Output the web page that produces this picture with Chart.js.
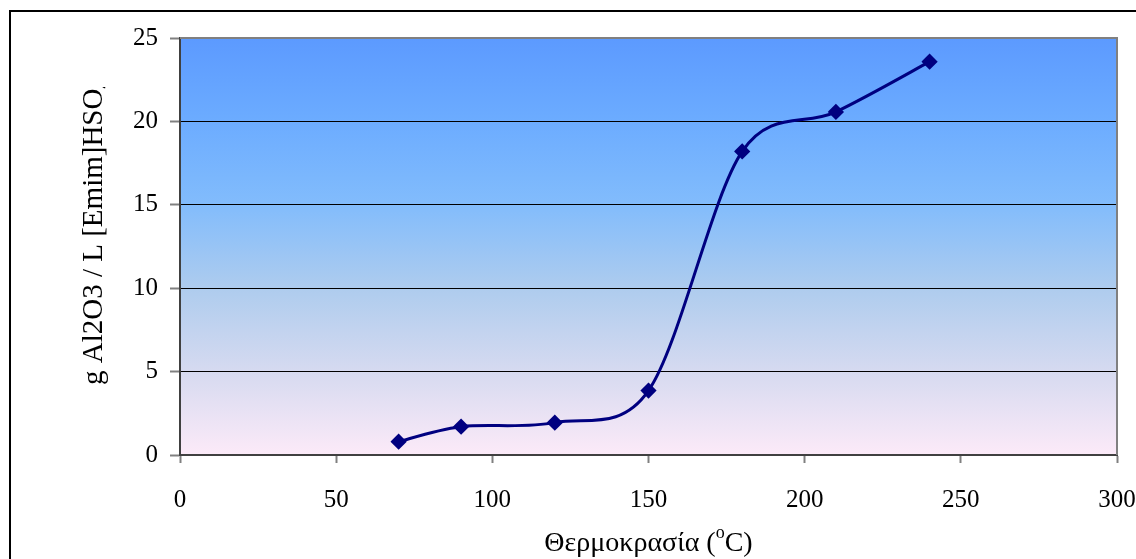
<!DOCTYPE html>
<html>
<head>
<meta charset="utf-8">
<script src="https://cdn.jsdelivr.net/npm/chart.js@4"></script>
<style>
  html, body { margin: 0; padding: 0; background: white; }
  #wrap { width: 1136px; height: 559px; }
</style>
</head>
<body>
<div id="wrap"><canvas id="myChart" width="1136" height="559"></canvas></div>
<script>
const temps = [70, 90, 120, 150, 180, 210, 240];
const alumina = [0.8, 1.7, 1.94, 3.86, 18.2, 20.57, 23.58];
const xTicks = [0, 50, 100, 150, 200, 250, 300];
const yTicks = [0, 5, 10, 15, 20, 25];

const yTitle = 'g Al2O3 / L [Emim]HSO';
const yTitleSub = '4';
const xTitle = 'Θερμοκρασία (';
const xTitleSup = 'o';
const xTitleEnd = 'C)';

const serif = "'Liberation Serif', 'Times New Roman', serif";

// Excel style smoothing: control points at 1/6 of the neighbour difference,
// arm length kept under half of the segment
const excelSmooth = {
  id: 'excelSmooth',
  beforeDatasetDraw(chart, args) {
    const line = args.meta.dataset
    line.updateControlPoints(chart.chartArea, 'x')
    const pts = args.meta.data
    const n = pts.length
    const dist = (a, b) => Math.hypot(b.x - a.x, b.y - a.y)
    for (let i = 0; i < n; i++) {
      const p = pts[i]
      const prev = pts[i - 1] || p
      const next = pts[i + 1] || p
      const dx = (next.x - prev.x) / 6
      const dy = (next.y - prev.y) / 6
      const arm = Math.hypot(dx, dy) || 1
      const k1 = Math.min(1, dist(prev, p) / 2 / arm)
      const k2 = Math.min(1, dist(p, next) / 2 / arm)
      p.cp1x = p.x - dx * k1
      p.cp1y = p.y - dy * k1
      p.cp2x = p.x + dx * k2
      p.cp2y = p.y + dy * k2
    }
    line._path = undefined
  }
}

const frame = {
  id: 'frame',
  beforeDraw(chart) {
    const ctx = chart.ctx
    const a = chart.chartArea
    ctx.save()
    ctx.fillStyle = 'white'
    ctx.fillRect(0, 0, chart.width, chart.height)
    // outer border, cut by the window on right and bottom
    ctx.strokeStyle = 'black'
    ctx.lineWidth = 2
    ctx.strokeRect(10, 11, chart.width + 20, chart.height + 20)
    // plot background
    const g = ctx.createLinearGradient(0, a.top, 0, a.bottom)
    g.addColorStop(0, 'rgb(92,154,255)')
    g.addColorStop(0.2, 'rgb(108,172,255)')
    g.addColorStop(0.4, 'rgb(130,188,252)')
    g.addColorStop(0.6, 'rgb(174,204,238)')
    g.addColorStop(0.8, 'rgb(214,218,240)')
    g.addColorStop(1, 'rgb(252,234,248)')
    ctx.fillStyle = g
    ctx.fillRect(a.left, a.top, a.right - a.left, a.bottom - a.top)
    ctx.restore()
  },
  beforeDatasetsDraw(chart) {
    const ctx = chart.ctx
    const a = chart.chartArea
    ctx.save()
    ctx.strokeStyle = '#808080'
    ctx.lineWidth = 2
    ctx.beginPath()
    ctx.moveTo(a.left, a.top)
    ctx.lineTo(a.right, a.top)
    ctx.lineTo(a.right, a.bottom)
    ctx.stroke()
    ctx.restore()
  },
  afterDraw(chart) {
    const ctx = chart.ctx
    ctx.save()
    ctx.fillStyle = 'black'
    ctx.textBaseline = 'alphabetic'
    ctx.textAlign = 'left'

    // x title with superscript
    ctx.font = '28px ' + serif
    const w1 = ctx.measureText(xTitle).width
    const w3 = ctx.measureText(xTitleEnd).width
    ctx.font = '18px ' + serif
    const w2 = ctx.measureText(xTitleSup).width
    const x = (chart.chartArea.left + chart.chartArea.right) / 2 - (w1 + w2 + w3) / 2
    ctx.font = '28px ' + serif
    ctx.fillText(xTitle, x, 551)
    ctx.font = '18px ' + serif
    ctx.fillText(xTitleSup, x + w1, 538)
    ctx.font = '28px ' + serif
    ctx.fillText(xTitleEnd, x + w1 + w2, 551)

    // y title, rotated, top end clipped like the original
    ctx.beginPath()
    ctx.rect(0, 87, 180, 400)
    ctx.clip()
    ctx.translate(102, 385)
    ctx.rotate(-Math.PI / 2)
    ctx.font = '29px ' + serif
    ctx.fillText(yTitle, 0, 0)
    const wy = ctx.measureText(yTitle).width
    ctx.font = '19px ' + serif
    ctx.fillText(yTitleSub, wy, 6)
    ctx.restore()
  }
}

new Chart('myChart', {
  type: 'line',
  data: {
    datasets: [{
      data: temps.map((t, i) => ({ x: t, y: alumina[i] })),
      borderColor: '#000080',
      backgroundColor: '#000080',
      borderWidth: 3,
      pointStyle: 'rectRot',
      pointRadius: 6,
      pointHoverRadius: 6,
      tension: 0.3,
      fill: false
    }]
  },
  options: {
    responsive: false,
    animation: false,
    layout: { padding: { left: 0, top: 38, right: 19, bottom: 0 } },
    plugins: { legend: { display: false }, tooltip: { enabled: false } },
    scales: {
      x: {
        type: 'linear',
        min: 0,
        max: 300,
        afterFit: s => { s.height = 104; s.paddingLeft = 0; s.paddingRight = 0 },
        afterBuildTicks: s => { s.ticks = xTicks.map(v => ({ value: v })) },
        grid: { drawOnChartArea: false, tickLength: 8, tickColor: '#808080', tickWidth: 2 },
        border: { color: '#404040', width: 2 },
        ticks: { color: 'black', font: { family: serif, size: 25 }, padding: 22, maxRotation: 0 }
      },
      y: {
        min: 0,
        max: 25,
        afterFit: s => { s.width = 180; s.paddingTop = 0; s.paddingBottom = 0 },
        afterBuildTicks: s => { s.ticks = yTicks.map(v => ({ value: v })) },
        grid: {
          color: c => (c.tick.value === 0 ? 'transparent' : c.tick.value === 25 ? '#808080' : 'black'),
          lineWidth: 1,
          tickLength: 10,
          tickColor: '#808080',
          tickWidth: 2
        },
        border: { color: '#404040', width: 2 },
        ticks: { color: 'black', font: { family: serif, size: 25 }, padding: 12 }
      }
    }
  },
  plugins: [frame, excelSmooth]
});
</script>
</body>
</html>
